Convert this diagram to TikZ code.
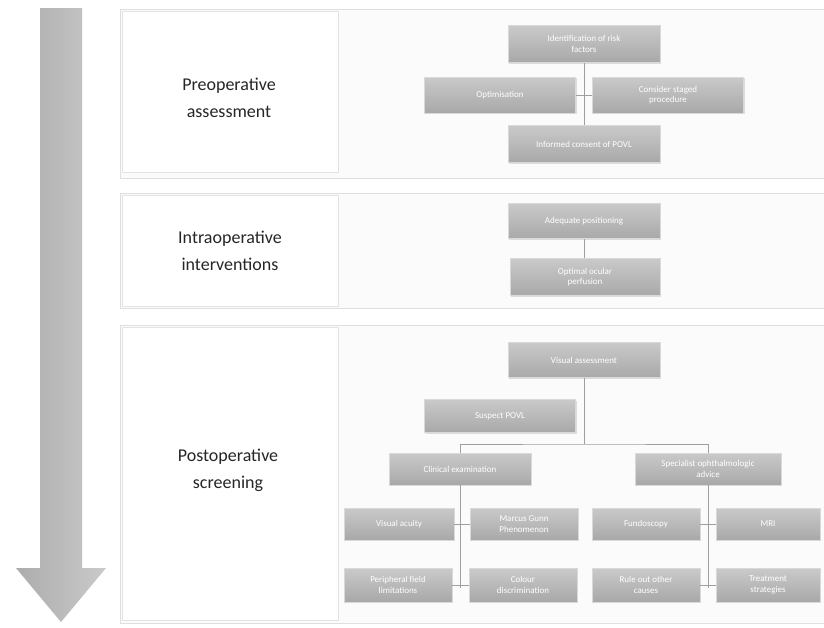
\documentclass[tikz,border=0pt]{standalone}
\usepackage{fontspec}
\setmainfont{Carlito}
\usetikzlibrary{shadows}
\begin{document}
\begin{tikzpicture}[x=1pt,y=-1pt,
  gbox/.style={rectangle, top color=gray!42, bottom color=gray!68, draw=gray!30, line width=0.6pt,
    text=white, font=\fontsize{9}{10.5}\selectfont, align=center, inner sep=1pt,
    drop shadow={shadow xshift=1pt, shadow yshift=-1.2pt, opacity=0.25}},
  panel/.style={fill=gray!3, draw=gray!25, line width=0.7pt},
  lpanel/.style={fill=white, draw=gray!22, line width=0.6pt},
  lab/.style={font=\fontsize{18}{27}\selectfont, align=center, text=black!85},
  conn/.style={draw=gray!75, line width=0.8pt}
]
\useasboundingbox (0,0) rectangle (824,627);
\fill[white] (0,0) rectangle (824,627);
% arrow
\shade[left color=gray!65, right color=gray!42, shading angle=90]
  (40,8) -- (82,8) -- (82,568) -- (106,568) -- (61,622) -- (16,568) -- (40,568) -- cycle;
% panels
\path[panel] (120,9) rectangle (824,178);
\path[lpanel] (122,11) rectangle (338,172);
\path[panel] (120,193) rectangle (824,308);
\path[lpanel] (122,195) rectangle (338,306);
\path[panel] (120,325) rectangle (824,623);
\path[lpanel] (122,327) rectangle (338,620);
% labels
\node[lab] (l1) at (229,98) {Preoperative\\assessment};
\node[lab] (l2) at (230,251) {Intraoperative\\interventions};
\node[lab] (l3) at (228,470) {Postoperative\\screening};
% panel 1
\node[gbox, minimum width=152pt, minimum height=37pt] (rf) at (584,44) {Identification of risk\\factors};
\node[gbox, minimum width=151pt, minimum height=36pt] (op) at (500,95) {Optimisation};
\node[gbox, minimum width=151pt, minimum height=36pt] (cs) at (668,95) {Consider staged\\procedure};
\node[gbox, minimum width=152pt, minimum height=37pt] (ic) at (584,144) {Informed consent of POVL};
\draw[conn] (rf.south) -- (ic.north);
\draw[conn] (op.east) -- (op.east -| rf.south);
\draw[conn] (cs.west) -- (cs.west -| rf.south);
% panel 2
\node[gbox, minimum width=152pt, minimum height=35pt] (ap) at (584,221) {Adequate positioning};
\node[gbox, minimum width=150pt, minimum height=37pt] (oo) at (585,277) {Optimal ocular\\perfusion};
\draw[conn] (ap.south) -- (ap.south |- oo.north);
% panel 3
\node[gbox, minimum width=152pt, minimum height=35pt] (vas) at (584,360) {Visual assessment};
\node[gbox, minimum width=151pt, minimum height=33pt] (sp) at (500,416) {Suspect POVL};
\coordinate (hb) at (584,444);
\node[gbox, minimum width=142pt, minimum height=32pt] (ce) at (460,469) {Clinical examination};
\node[gbox, minimum width=146pt, minimum height=32pt] (so) at (708,469) {Specialist ophthalmologic\\advice};
\draw[conn] (vas.south) -- (hb);
\draw[conn] (ce.north) |- (hb) -| (so.north);
\node[gbox, minimum width=110pt, minimum height=32pt] (va) at (399,524) {Visual acuity};
\node[gbox, minimum width=108pt, minimum height=32pt] (mg) at (524,524) {Marcus Gunn\\Phenomenon};
\node[gbox, minimum width=108pt, minimum height=34pt] (pf) at (398,585) {Peripheral field\\limitations};
\node[gbox, minimum width=108pt, minimum height=34pt] (cd) at (523,585) {Colour\\discrimination};
\coordinate (ceb) at (460,588);
\draw[conn] (ce.south) -- (ceb);
\draw[conn] (va.east) -- (va.east -| ce.south);
\draw[conn] (mg.west) -- (mg.west -| ce.south);
\draw[conn] (pf.east) -- (pf.east -| ce.south);
\draw[conn] (cd.west) -- (cd.west -| ce.south);
\node[gbox, minimum width=108pt, minimum height=32pt] (fu) at (646,524) {Fundoscopy};
\node[gbox, minimum width=104pt, minimum height=32pt] (mr) at (768,524) {MRI};
\node[gbox, minimum width=108pt, minimum height=34pt] (ro) at (646,585) {Rule out other\\causes};
\node[gbox, minimum width=104pt, minimum height=34pt] (tr) at (768,585) {Treatment\\strategies};
\coordinate (sob) at (708,588);
\draw[conn] (so.south) -- (sob);
\draw[conn] (fu.east) -- (fu.east -| so.south);
\draw[conn] (mr.west) -- (mr.west -| so.south);
\draw[conn] (ro.east) -- (ro.east -| so.south);
\draw[conn] (tr.west) -- (tr.west -| so.south);
\end{tikzpicture}
\end{document}
